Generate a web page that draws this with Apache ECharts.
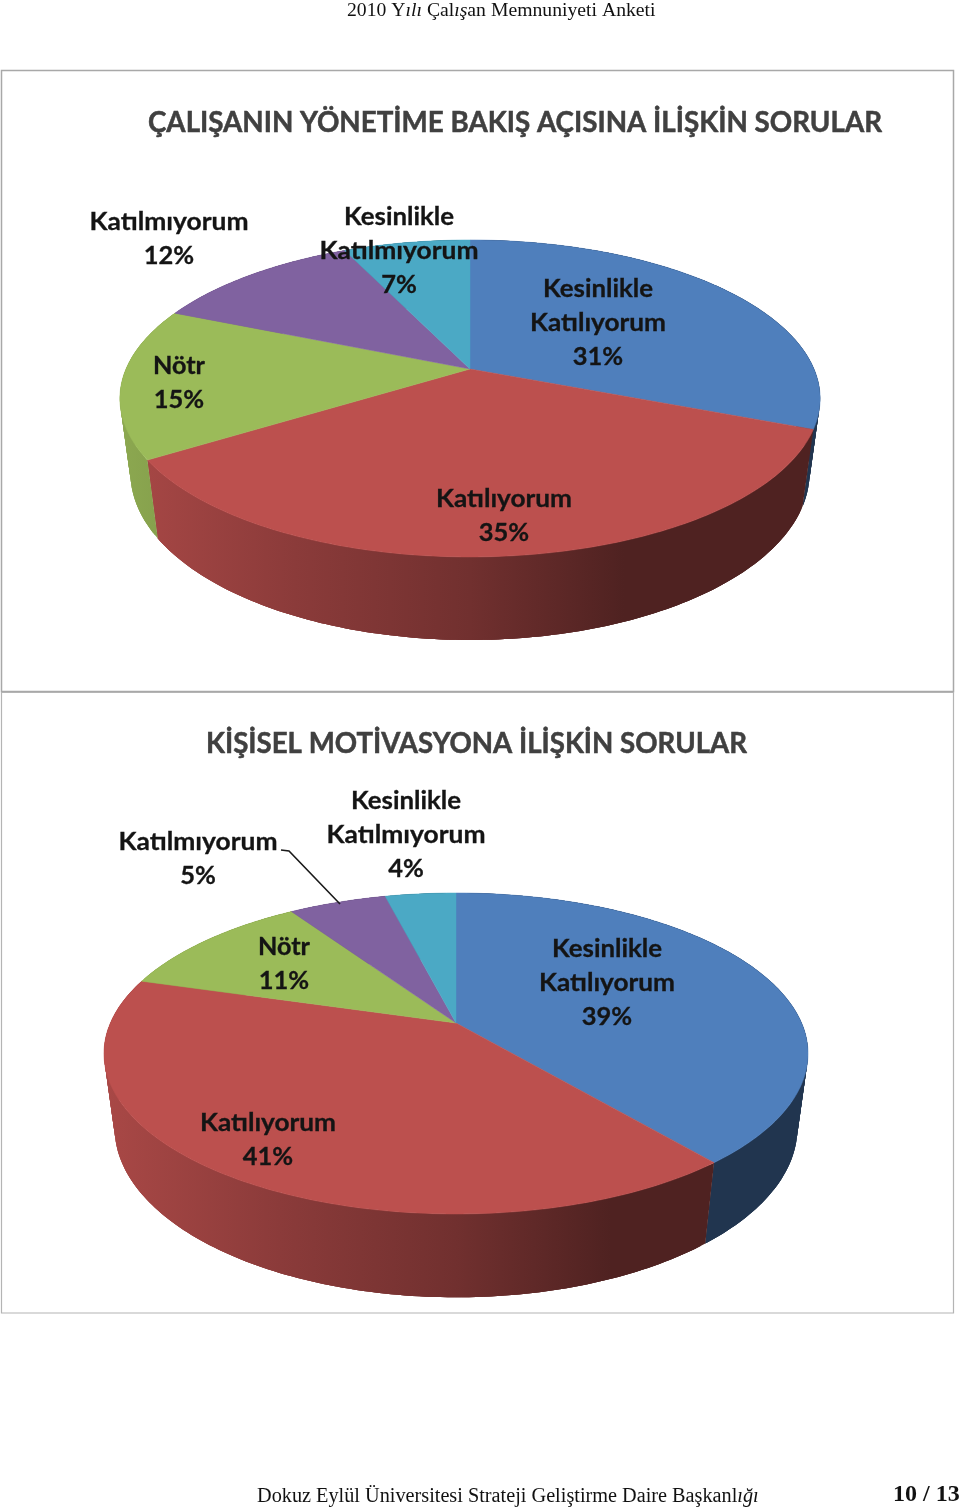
<!DOCTYPE html>
<html>
<head>
<meta charset="utf-8">
<script src="https://cdn.jsdelivr.net/npm/echarts@6/dist/echarts.min.js"></script>
<style>html,body{margin:0;padding:0;background:#fff}#c{width:960px;height:1508px}</style>
</head>
<body>
<div id="c"></div>
<script>
// ---- data
const categories = ['Kesinlikle Katılıyorum', 'Katılıyorum', 'Nötr', 'Katılmıyorum', 'Kesinlikle Katılmıyorum'];
const managementValues = [31, 35, 15.4, 11.6, 7];
const motivationValues = [39, 40.6, 11.1, 5.4, 3.9];
const managementTitle = 'ÇALIŞANIN YÖNETİME BAKIŞ AÇISINA İLİŞKİN SORULAR';
const motivationTitle = 'KİŞİSEL MOTİVASYONA İLİŞKİN SORULAR';
const sliceColors = ['#4F7FBC', '#BC504E', '#9BBB59', '#8062A0', '#4BA9C5'];

// ---- layout
const FONT = '"Lato"';
const wordWidths = { 'Kesinlikle': 110, 'Katılıyorum': 136, 'Katılmıyorum': 159, 'Nötr': 52 };
const pieLayouts = [
  { cx: 470, cy: 369, a: 153, b: 344, k: 0.186, d: 75.7, e: 0.03, x0: 120, x1: 820,
    labels: [[598, 289], [504, 499], [179, 366], [169, 222], [399, 217]] },
  { cx: 456, cy: 1023, a: 154.7, b: 345.6, k: 0.19, d: 75.7, e: 0.03, x0: 104, x1: 808,
    labels: [[607, 949], [268, 1123], [284, 947], [198, 842], [406, 801]] }
];
const LINE_GAP = 34.3;

const measureCtx = document.createElement('canvas').getContext('2d');
function fit(text, font, width) {
  measureCtx.font = font;
  return width / measureCtx.measureText(text).width;
}
function shade(hex, f) {
  const n = parseInt(hex.slice(1), 16);
  return 'rgb(' + [(n >> 16) & 255, (n >> 8) & 255, n & 255].map(c => Math.round(c * f)).join(',') + ')';
}
function project(L, frac, lower) {
  const t = frac * 2 * Math.PI, X = Math.sin(t), Y = -Math.cos(t);
  const w = 1 - L.k * Y + (lower ? L.e : 0);
  return [L.cx + L.b * X / w, L.cy + (L.a * Y + (lower ? L.d : 0)) / w];
}
function arc(L, from, to, lower) {
  const n = Math.max(2, Math.ceil((to - from) * 360)), pts = [];
  for (let i = 0; i <= n; i++) pts.push(project(L, from + (to - from) * i / n, lower));
  return pts;
}
function range(values, i) {
  const total = values.reduce((s, v) => s + v, 0);
  const before = values.slice(0, i).reduce((s, v) => s + v, 0);
  return [before / total, (before + values[i]) / total];
}
function wallFill(L, color) {
  return { type: 'linear', global: true, x: L.x0, y: 0, x2: L.x1, y2: 0, colorStops: [
    { offset: 0, color: shade(color, 0.9) },
    { offset: 0.25, color: shade(color, 0.74) },
    { offset: 0.5, color: shade(color, 0.6) },
    { offset: 0.72, color: shade(color, 0.42) },
    { offset: 1, color: shade(color, 0.42) }
  ] };
}
function wallSeries(values, L) {
  return { type: 'custom', coordinateSystem: 'none', z: 2, silent: true, animation: false,
    data: values.map(v => [v]),
    renderItem(p) {
      const [s, t] = range(values, p.dataIndex);
      const up = arc(L, s, t, false), low = arc(L, s, t, true);
      const fill = wallFill(L, sliceColors[p.dataIndex]);
      const children = [];
      // overlapping quads: each seam falls inside its neighbour, so no hairlines appear
      for (let i = 0; i < up.length - 1; i++) {
        const j = Math.min(i + 3, up.length - 1);
        const strip = up.slice(i, j + 1).concat(low.slice(i, j + 1).reverse());
        children.push({ type: 'polygon', shape: { points: strip }, style: { fill } });
      }
      return { type: 'group', children };
    } };
}
function faceSeries(values, L) {
  return { type: 'custom', coordinateSystem: 'none', z: 3, silent: true, animation: false,
    data: values.map(v => [v]),
    renderItem(p) {
      const [s, t] = range(values, p.dataIndex);
      const pts = [[L.cx, L.cy]].concat(arc(L, s, t, false));
      const c = sliceColors[p.dataIndex];
      return { type: 'polygon', shape: { points: pts }, style: { fill: c, stroke: c, lineWidth: 0.5 } };
    } };
}
function labelSeries(values, L) {
  const font = 'bold 24px ' + FONT;
  return { type: 'custom', coordinateSystem: 'none', z: 4, silent: true, animation: false,
    data: values.map(v => [v]),
    renderItem(p, api) {
      const i = p.dataIndex, lines = categories[i].split(' ').concat(Math.round(api.value(0)) + '%');
      const [x, y] = L.labels[i];
      return { type: 'group', children: lines.map((txt, n) => ({
        type: 'text', x, y: y + n * LINE_GAP,
        scaleX: wordWidths[txt] ? fit(txt, font, wordWidths[txt]) : 1.06,
        style: { x: 0, y: 0, text: txt, font, fill: '#141414', stroke: '#141414', lineWidth: 0.3, align: 'center', verticalAlign: 'middle' }
      })) };
    } };
}
function titleEl(text, x0, x1, y) {
  const font = 'bold 29px ' + FONT;
  return { type: 'text', x: (x0 + x1) / 2, y, z: 5, scaleX: fit(text, font, x1 - x0),
    style: { x: 0, y: 0, text, font, fill: '#404040', stroke: '#404040', lineWidth: 0.5, align: 'center', verticalAlign: 'middle' } };
}
const serifItalic = { fontStyle: 'italic', fontFamily: 'Liberation Serif', fontSize: 19.5, fill: '#111' };
const chart = echarts.init(document.getElementById('c'), null, { renderer: 'canvas' });
chart.setOption({
  animation: false,
  backgroundColor: '#fff',
  graphic: [
    { type: 'rect', z: 1, shape: { x: 1.5, y: 70.5, width: 952, height: 621 }, style: { fill: '#fff', stroke: '#a8a8a8', lineWidth: 1.5 } },
    { type: 'rect', z: 1, shape: { x: 1.5, y: 692.5, width: 952, height: 620.5 }, style: { fill: '#fff', stroke: '#b4b4b4', lineWidth: 1.2 } },
    titleEl(managementTitle, 148, 882, 122.5),
    titleEl(motivationTitle, 206, 747, 743.5),
    { type: 'polyline', z: 5, shape: { points: [[281, 850], [289, 851], [340, 904]] }, style: { fill: 'none', stroke: '#1a1a1a', lineWidth: 1.6 } },
    { type: 'text', z: 5, x: 347, y: 11, scaleX: 1.01, style: {
        text: '2010 Y{i|ılı} Çal{i|ış}an Memnuniyeti Anketi', fontFamily: 'Liberation Serif', fontSize: 19.5, fill: '#111',
        verticalAlign: 'middle', rich: { i: serifItalic } } },
    { type: 'text', z: 5, x: 257, y: 1497, scaleX: 0.988, style: {
        text: 'Dokuz Eylül Üniversitesi Strateji Geliştirme Daire Başkanl{i|ığı}', fontFamily: 'Liberation Serif', fontSize: 20.5, fill: '#111',
        verticalAlign: 'middle', rich: { i: Object.assign({}, serifItalic, { fontSize: 20.5 }) } } },
    { type: 'text', z: 5, x: 893, y: 1495, style: {
        text: '10 / 13', font: 'bold 24px "Liberation Serif"', fill: '#111', verticalAlign: 'middle' } }
  ],
  series: [
    wallSeries(managementValues, pieLayouts[0]), faceSeries(managementValues, pieLayouts[0]), labelSeries(managementValues, pieLayouts[0]),
    wallSeries(motivationValues, pieLayouts[1]), faceSeries(motivationValues, pieLayouts[1]), labelSeries(motivationValues, pieLayouts[1])
  ]
});
</script>
</body>
</html>
